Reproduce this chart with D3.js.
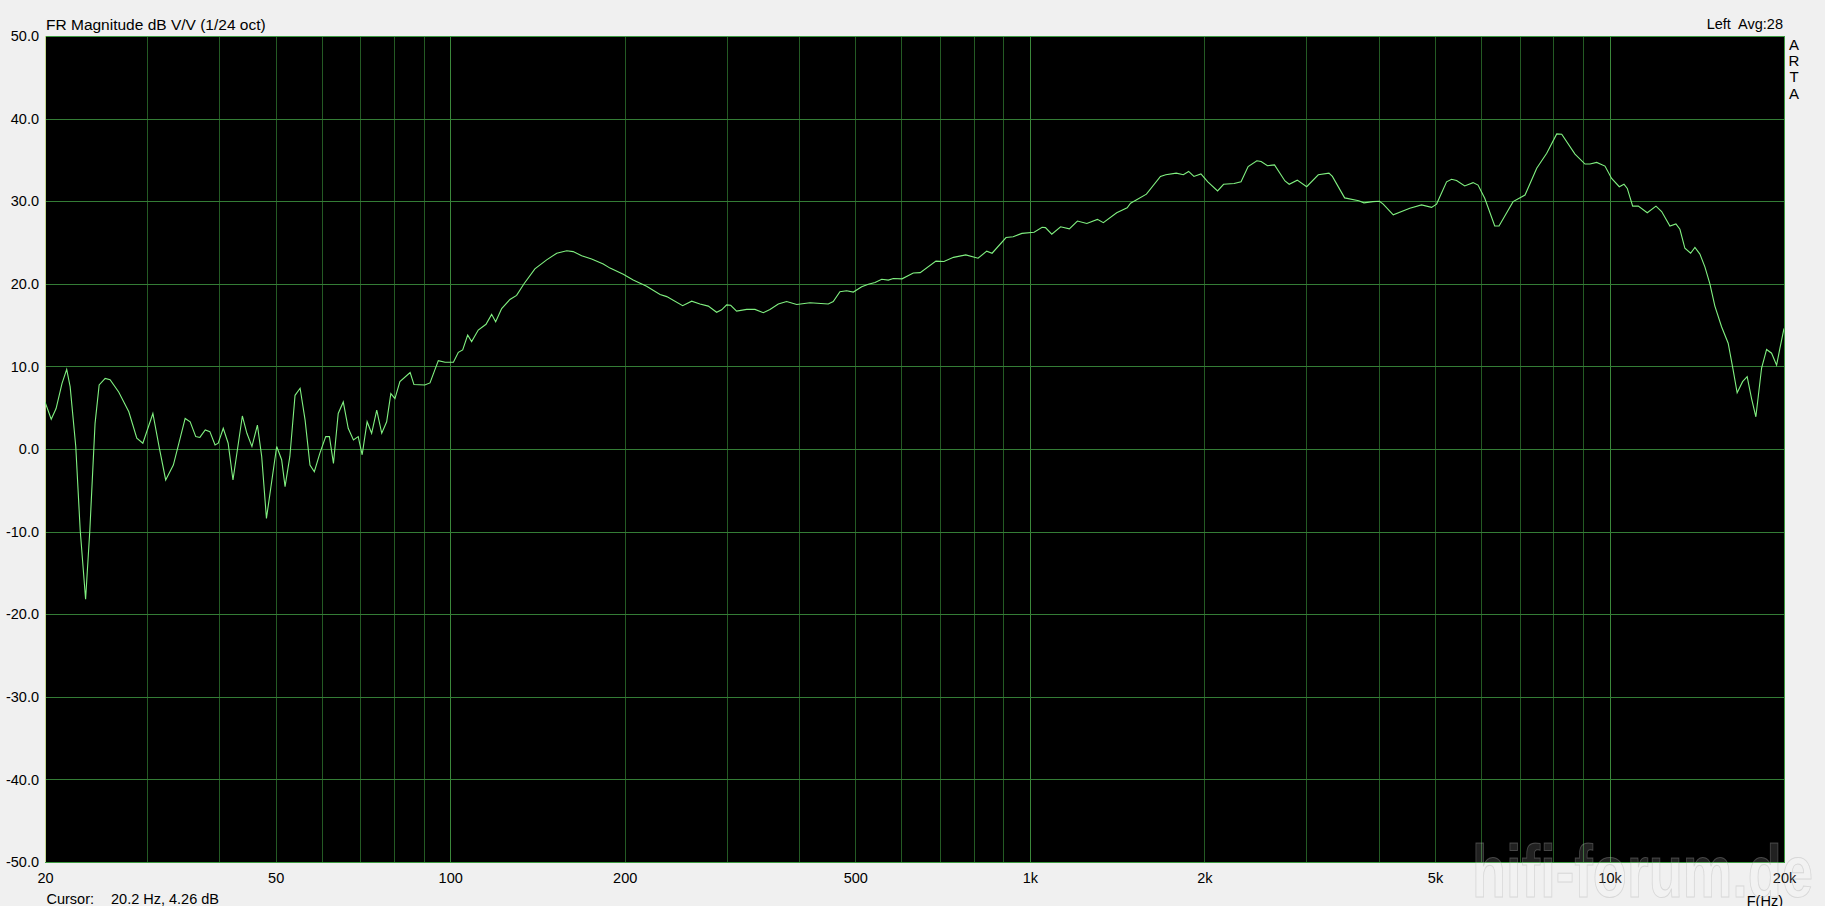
<!DOCTYPE html>
<html>
<head>
<meta charset="utf-8">
<script src="https://cdn.jsdelivr.net/npm/d3@7"></script>
<style>
  body { margin: 0; background: #f0f0f0; }
  svg { display: block; font-family: "Liberation Sans", Arial, sans-serif; }
</style>
</head>
<body>
<script>

let freqHz = [20, 20.5, 20.9, 21.4, 21.8, 22.1, 22.6, 23.0, 23.5, 23.9, 24.4, 24.8, 25.4, 25.9, 26.8, 27.9, 28.8, 29.5,
  30.7, 31.5, 32.3, 33.3, 34.9, 35.6, 36.4, 37.0, 37.8, 38.5, 39.3, 39.8, 40.6, 41.4, 42.2, 43.8, 44.6, 45.5, 46.5, 47.3, 48.2,
  50.2, 51.2, 51.9, 52.9, 54.0, 55.1, 56.2, 57.3, 58.3, 59.6, 61.0, 61.9, 62.9, 64.1, 65.4, 66.7, 68.1, 69.4, 70.5, 71.9,
  73.2, 74.7, 76.2, 77.7, 79.0, 80.3, 81.9, 85.3, 86.6, 90.4, 92.3, 95.4, 98.0, 101.3, 103.3, 105.1, 107.2, 108.9, 111.8,
  115.3, 117.9, 119.8, 122.7, 126.8, 130.2, 134.1, 140.0, 146.7, 152.7, 158.9, 163.0, 168.6, 175.4, 183.7, 188.7, 198.9,
  206.9, 218.2, 230.2, 236.4, 251.8, 261.0, 269.7, 278.8, 288.2, 294.0, 299.9, 304.7, 312.0, 324.7, 335.6, 346.9, 356.2,
  368.2, 380.6, 396.1, 417.6, 449.0, 458.0, 470.3, 483.0, 496.0, 512.8, 526.5, 540.7, 555.2, 570.0, 581.4, 601.8, 629.4,
  646.9, 688.7, 711.0, 738.4, 775.3, 814.1, 842.7, 860.7, 909.9, 936.0, 968.9, 1017, 1050, 1064, 1091, 1130, 1170, 1208,
  1254, 1308, 1339, 1412, 1472, 1492, 1589, 1680, 1716, 1789, 1840, 1879, 1919, 1973, 2028, 2108, 2159, 2251, 2314, 2380,
  2464, 2506, 2570, 2643, 2755, 2802, 2893, 3003, 3145, 3281, 3326, 3492, 3693, 3770, 3904, 4011, 4070, 4236, 4524, 4740,
  4932, 5031, 5235, 5340, 5447, 5626, 5816, 5932, 6092, 6339, 6448, 6818, 7149, 7489, 7793, 8109, 8271, 8719, 9073, 9254,
  9504, 9822, 10085, 10396, 10592, 10732, 10964, 11212, 11619, 12027, 12301, 12712, 13018, 13227, 13491, 13802, 14039,
  14320, 14607, 14900, 15198, 15607, 16022, 16305, 16605, 16965, 17277, 17582, 17885, 18297, 18664, 19038, 19421, 19680, 20000];

let magDb = [5.7, 3.6, 4.9, 7.95, 9.65, 7.55, 0.3, -9.8, -18.2, -9.8, 3.1, 7.75, 8.55, 8.4, 6.9, 4.5, 1.3, 0.7,
  4.3, 0.1, -3.75, -1.95, 3.7, 3.3, 1.5, 1.4, 2.3, 2.1, 0.5, 0.7, 2.5, 0.7, -3.75, 4.0, 1.9, 0.3, 2.9, -0.9, -8.4,
  0.3, -1.3, -4.55, -0.9, 6.5, 7.35, 3.5, -1.95, -2.75, -0.5, 1.5, 1.5, -1.75, 4.3, 5.7, 2.5, 1.1, 1.5, -0.7, 3.3,
  1.9, 4.7, 1.9, 3.3, 6.7, 6.1, 8.15, 9.25, 7.8, 7.75, 8.0, 10.7, 10.5, 10.5, 11.7, 12.0, 13.8, 13.0, 14.4,
  15.1, 16.3, 15.4, 17.0, 18.1, 18.6, 20.0, 21.8, 22.9, 23.7, 24.0, 23.9, 23.4, 23.0, 22.4, 21.9, 21.15,
  20.45, 19.7, 18.7, 18.45, 17.35, 17.9, 17.55, 17.3, 16.55, 16.85, 17.45, 17.4, 16.7, 16.9, 16.9, 16.5, 16.9,
  17.55, 17.85, 17.5, 17.7, 17.55, 17.85, 19.05, 19.15, 19.0, 19.65, 19.95, 20.15, 20.55, 20.45, 20.65, 20.6, 21.3,
  21.35, 22.75, 22.7, 23.2, 23.5, 23.1, 23.95, 23.7, 25.6, 25.7, 26.1, 26.25, 26.85, 26.8, 26.0, 26.9, 26.65, 27.6,
  27.3, 27.8, 27.4, 28.6, 29.2, 29.75, 30.85, 33.0, 33.2, 33.4, 33.2, 33.6, 33.0, 33.3, 32.35, 31.25, 32.05, 32.15, 32.35, 34.2,
  34.9, 34.8, 34.3, 34.4, 32.45, 32.05, 32.55, 31.75, 33.2, 33.4, 33.0, 30.4, 30.05, 29.8, 29.95, 30.0, 29.65, 28.35, 29.15, 29.55,
  29.25, 29.65, 32.35, 32.65, 32.5, 31.85, 32.25, 31.95, 30.35, 27.0, 27.0, 29.95, 30.75, 34.0, 35.8, 38.15, 38.1, 35.7, 34.5, 34.5,
  34.7, 34.25, 32.75, 31.75, 32.05, 31.55, 29.4, 29.4, 28.6, 29.4, 28.75, 27.0, 27.25, 26.6, 24.3, 23.7, 24.4,
  23.6, 22.05, 20.0, 17.3, 14.8, 12.8, 9.95, 6.8, 8.15, 8.75, 6.1, 3.9, 9.8, 12.05, 11.6, 10.15, 12.2, 14.6];

let yTicks = [50, 40, 30, 20, 10, 0, -10, -20, -30, -40, -50];
let xTicks = [20, 50, 100, 200, 500, 1000, 2000, 5000, 10000, 20000];
let xTickLabels = ["20", "50", "100", "200", "500", "1k", "2k", "5k", "10k", "20k"];
let artaLetters = ["A", "R", "T", "A"];

let width = 1825,
    height = 906,
    plotLeft = 45, plotRight = 1784, plotTop = 36, plotBottom = 862;

let x = d3.scaleLog().domain([20, 20000]).range([plotLeft, plotRight]);
let y = d3.scaleLinear().domain([-50, 50]).range([plotBottom, plotTop]);

let svg = d3.select("body").append("svg")
    .attr("width", width)
    .attr("height", height);

svg.append("rect")
    .attr("x", plotLeft).attr("y", plotTop)
    .attr("width", plotRight - plotLeft).attr("height", plotBottom - plotTop)
    .attr("fill", "#000");

// grid: every 1,2..9 x 10^n vertically, every 10 dB horizontally
let isDecade = d => Math.abs(Math.log10(d) - Math.round(Math.log10(d))) < 1e-6;

let gx = svg.append("g")
    .attr("transform", "translate(0," + plotBottom + ")")
    .call(d3.axisBottom(x).tickValues(x.ticks()).tickSize(-(plotBottom - plotTop)).tickFormat(""));
gx.select(".domain").remove();
gx.selectAll(".tick line")
    .attr("stroke", d => isDecade(d) ? "#3b873b" : "#245a24")
    .attr("shape-rendering", "crispEdges");

let gy = svg.append("g")
    .attr("transform", "translate(" + plotLeft + ",0)")
    .call(d3.axisLeft(y).tickValues(yTicks).tickSize(-(plotRight - plotLeft)).tickFormat(""));
gy.select(".domain").remove();
gy.selectAll(".tick line")
    .attr("stroke", "#347d36")
    .attr("shape-rendering", "crispEdges");

// frame
svg.append("rect")
    .attr("x", plotLeft).attr("y", plotTop)
    .attr("width", plotRight - plotLeft).attr("height", plotBottom - plotTop)
    .attr("fill", "none")
    .attr("stroke", "#3d9a41")
    .attr("shape-rendering", "crispEdges");
svg.append("line")
    .attr("x1", plotLeft).attr("x2", plotLeft)
    .attr("y1", plotTop).attr("y2", plotBottom)
    .attr("stroke", "#c4d68e")
    .attr("shape-rendering", "crispEdges");

svg.append("clipPath").attr("id", "plotclip")
  .append("rect")
    .attr("x", plotLeft).attr("y", plotTop)
    .attr("width", plotRight - plotLeft).attr("height", plotBottom - plotTop);

let line = d3.line()
    .x(d => x(d[0]))
    .y(d => y(d[1]));

svg.append("path")
    .datum(d3.zip(freqHz, magDb))
    .attr("clip-path", "url(#plotclip)")
    .attr("fill", "none")
    .attr("stroke", "#80f080")
    .attr("stroke-width", 1.1)
    .attr("d", line);

// tick labels
let ly = svg.append("g")
    .attr("transform", "translate(" + plotLeft + ",0)")
    .call(d3.axisLeft(y).tickValues(yTicks).tickSize(0).tickPadding(6).tickFormat(d => d.toFixed(1)));
ly.select(".domain").remove();
ly.selectAll("text")
    .attr("fill", "#000")
    .style("font-size", "14.5px")
    .style("font-family", "'Liberation Sans', Arial, sans-serif");

let lx = svg.append("g")
    .attr("transform", "translate(0," + plotBottom + ")")
    .call(d3.axisBottom(x).tickValues(xTicks).tickSize(0).tickPadding(11)
        .tickFormat((d, i) => xTickLabels[i]));
lx.select(".domain").remove();
lx.selectAll("text")
    .attr("fill", "#000")
    .style("font-size", "14.5px")
    .style("font-family", "'Liberation Sans', Arial, sans-serif");

// header and footer texts
svg.append("text")
    .attr("x", 46).attr("y", 30)
    .style("font-size", "15.5px")
    .text("FR Magnitude dB V/V (1/24 oct)");

svg.append("text")
    .attr("x", 1783).attr("y", 29)
    .attr("text-anchor", "end")
    .style("font-size", "14.5px")
    .style("white-space", "pre")
    .text("Left  Avg:28");

svg.selectAll(".arta")
    .data(artaLetters)
  .enter().append("text")
    .attr("class", "arta")
    .attr("x", 1794)
    .attr("y", (d, i) => 50 + i * 16.2)
    .attr("text-anchor", "middle")
    .style("font-size", "15px")
    .text(d => d);

svg.append("text")
    .attr("x", 46.5).attr("y", 904)
    .style("font-size", "14.5px")
    .text("Cursor:");
svg.append("text")
    .attr("x", 111).attr("y", 904)
    .style("font-size", "14.5px")
    .text("20.2 Hz, 4.26 dB");

svg.append("text")
    .attr("x", 1783).attr("y", 906)
    .attr("text-anchor", "end")
    .style("font-size", "14.5px")
    .text("F(Hz)");

// forum watermark
svg.append("text")
    .attr("x", 1472).attr("y", 897)
    .attr("textLength", 341)
    .attr("lengthAdjust", "spacingAndGlyphs")
    .style("font-family", "'Liberation Sans Narrow', 'Liberation Sans', Arial, sans-serif")
    .style("font-weight", "bold")
    .style("font-size", "74px")
    .attr("fill", "#fff")
    .attr("fill-opacity", 0.13)
    .attr("stroke", "#a8a8a8")
    .attr("stroke-opacity", 0.35)
    .attr("stroke-width", 1)
    .text("hifi-forum.de");

</script>
</body>
</html>
